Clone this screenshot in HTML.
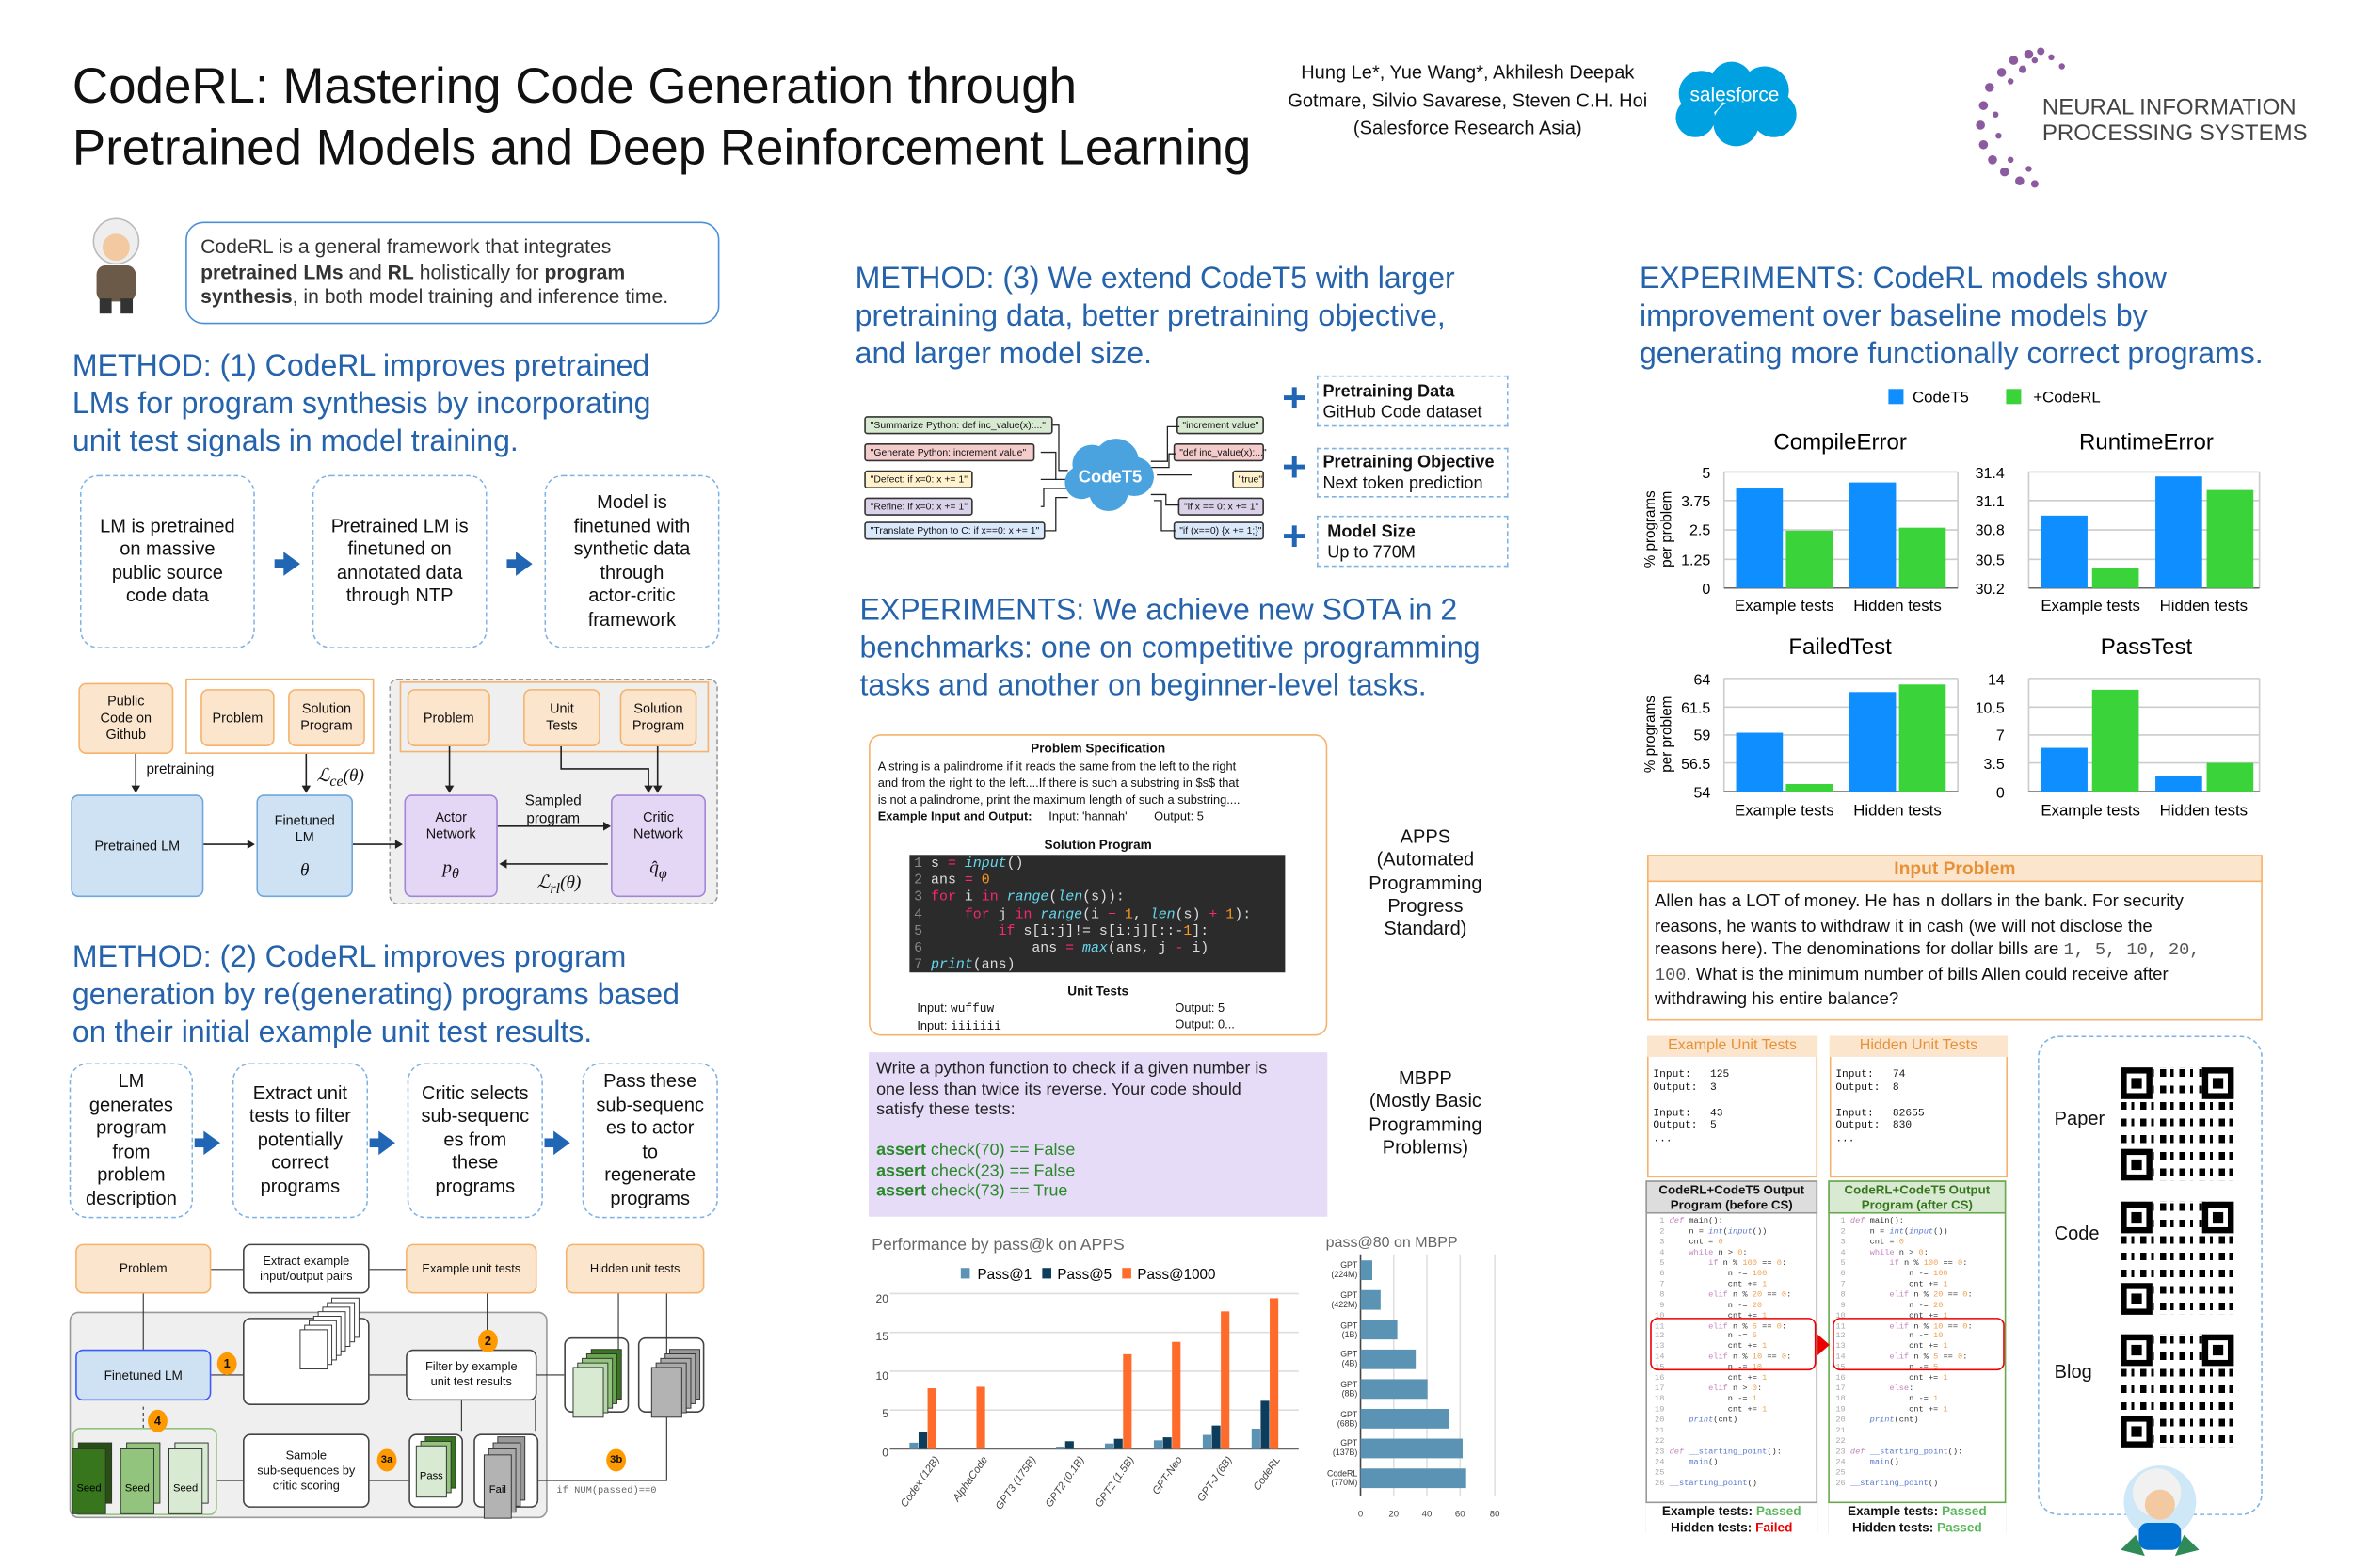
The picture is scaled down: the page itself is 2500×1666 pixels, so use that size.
<!DOCTYPE html>
<html><head><meta charset="utf-8"><style>
*{margin:0;padding:0;box-sizing:border-box}
html,body{width:2500px;height:1666px;overflow:hidden;background:#fff}
#c{position:absolute;left:0;top:0;width:1560px;height:1040px;transform:scale(1.60256,1.60192);transform-origin:0 0;font-family:"Liberation Sans",sans-serif;color:#111}
.a{position:absolute}
.h{position:absolute;color:#2563ac;font-size:20px;line-height:25px}
.db{position:absolute;border:1px dashed #7fb3e6;border-radius:12px;display:flex;align-items:center;justify-content:center;text-align:center;font-size:12.5px;line-height:15.5px}
.arr{position:absolute;width:0;height:0;border-top:8px solid transparent;border-bottom:8px solid transparent;border-left:11px solid #2166b5}
.arr:before{content:"";position:absolute;left:-17px;top:-3px;width:7px;height:6px;background:#2166b5}
.bx{position:absolute;display:flex;align-items:center;justify-content:center;text-align:center;font-size:9px;line-height:11px;border-radius:5px}
.or{background:#fce5cd;border:1px solid #f6b26b}
.bl{background:#cfe2f3;border:1px solid #6fa8dc}
.pu{background:#e4d7f5;border:1px solid #a585d8}
.wh{background:#fff;border:1px solid #444}
.num{position:absolute;width:13px;height:15px;border-radius:50%;background:#ff9900;font-size:8px;font-weight:bold;display:flex;align-items:center;justify-content:center}
.mono{font-family:"Liberation Mono",monospace}
.ib{position:absolute;font-size:9.5px;display:flex;align-items:center;padding-left:3px;border:1px solid #333;border-radius:2px;white-space:nowrap}
.cl{font-family:"Liberation Mono",monospace;font-size:5.4px;line-height:6.95px;white-space:pre;color:#333}
.qr{position:absolute;width:75px;height:75px;background:
 repeating-linear-gradient(90deg,#000 0 4px,#fff 4px 7px,#000 7px 9px,#fff 9px 13px),
 #fff;}
.qr:after{content:"";position:absolute;inset:0;background:repeating-linear-gradient(0deg,rgba(255,255,255,1) 0 3px,transparent 3px 6px,rgba(255,255,255,.0) 6px 8px,#fff 8px 11px)}
.fp{position:absolute;width:21px;height:21px;border:4px solid #000;background:#fff;z-index:2}
.fp:after{content:"";position:absolute;left:3px;top:3px;width:7px;height:7px;background:#000}
</style></head><body><div id="c">

<!-- header -->
<div class="a" style="left:48px;top:36px;font-size:33px;line-height:41px;color:#111">CodeRL: Mastering Code Generation through<br>Pretrained Models and Deep Reinforcement Learning</div>
<div class="a" style="left:848px;top:39px;width:250px;text-align:center;font-size:12.5px;line-height:18.5px">Hung Le*, Yue Wang*, Akhilesh Deepak<br>Gotmare, Silvio Savarese, Steven C.H. Hoi<br>(Salesforce Research Asia)</div>
<svg class="a" style="left:1106px;top:40px" width="88" height="58"><g fill="#00a1e0"><circle cx="22" cy="22" r="15"/><circle cx="42" cy="15" r="14"/><circle cx="64" cy="20" r="16"/><circle cx="70" cy="36" r="15"/><circle cx="45" cy="42" r="15"/><circle cx="18" cy="38" r="13"/></g><text x="44" y="27" fill="#fff" font-size="13" text-anchor="middle" font-family="Liberation Sans">salesforce</text></svg>
<svg class="a" style="left:1305px;top:28px" width="70" height="100"><g fill="#8b5a9f">
<circle cx="40" cy="8" r="3"/><circle cx="48" cy="6" r="2.5"/><circle cx="30" cy="12" r="3"/><circle cx="55" cy="10" r="2"/><circle cx="22" cy="20" r="3"/><circle cx="36" cy="18" r="2.5"/><circle cx="14" cy="30" r="3"/><circle cx="28" cy="26" r="2"/><circle cx="10" cy="42" r="3"/><circle cx="8" cy="55" r="3"/><circle cx="18" cy="48" r="2"/><circle cx="10" cy="68" r="3"/><circle cx="16" cy="78" r="3"/><circle cx="24" cy="86" r="3"/><circle cx="34" cy="92" r="3"/><circle cx="44" cy="94" r="2.5"/><circle cx="20" cy="62" r="2"/><circle cx="44" cy="12" r="2"/><circle cx="62" cy="16" r="2"/><circle cx="28" cy="78" r="2"/><circle cx="40" cy="84" r="2"/></g></svg>
<div class="a" style="left:1354px;top:63px;font-size:15px;line-height:17px;color:#444">NEURAL INFORMATION<br>PROCESSING SYSTEMS</div>

<!-- column 1 -->
<svg class="a" style="left:52px;top:138px" width="50" height="72"><circle cx="25" cy="22" r="15" fill="#eee" stroke="#bbb"/><circle cx="25" cy="26" r="9" fill="#f2c9a0"/><rect x="12" y="38" width="26" height="24" rx="6" fill="#6b5a48"/><rect x="14" y="60" width="8" height="10" fill="#333"/><rect x="28" y="60" width="8" height="10" fill="#333"/></svg>
<div class="a" style="left:123px;top:147px;width:354px;height:68px;border:1px solid #4a90d9;border-radius:12px;padding:8px 0 0 9px;font-size:13.2px;line-height:16.5px;color:#333">CodeRL is a general framework that integrates<br><b>pretrained LMs</b> and <b>RL</b> holistically for <b>program synthesis</b>, in both model training and inference time.</div>
<div class="h" style="left:48px;top:231px">METHOD: (1) CodeRL improves pretrained<br>LMs for program synthesis by incorporating<br>unit test signals in model training.</div>
<div class="db" style="left:53px;top:315px;width:116px;height:115px">LM is pretrained<br>on massive<br>public source<br>code data</div>
<div class="db" style="left:207px;top:315px;width:116px;height:115px">Pretrained LM is<br>finetuned on<br>annotated data<br>through NTP</div>
<div class="db" style="left:361px;top:315px;width:116px;height:115px">Model is<br>finetuned with<br>synthetic data<br>through<br>actor-critic<br>framework</div>
<div class="arr" style="left:188px;top:366px"></div>
<div class="arr" style="left:342px;top:366px"></div>

<!-- diagram 1 -->
<div class="a" style="left:123px;top:450px;width:125px;height:50px;border:1px solid #f6b26b"></div>
<div class="a" style="left:258px;top:450px;width:218px;height:150px;background:#efefef;border:1px dashed #999;border-radius:6px"></div>
<div class="a" style="left:265px;top:452px;width:205px;height:47px;border:1px solid #f6b26b"></div>
<div class="bx or" style="left:52px;top:453px;width:63px;height:47px">Public<br>Code on<br>Github</div>
<div class="bx or" style="left:133px;top:457px;width:49px;height:38px">Problem</div>
<div class="bx or" style="left:191px;top:457px;width:51px;height:38px">Solution<br>Program</div>
<div class="bx or" style="left:270px;top:457px;width:55px;height:38px">Problem</div>
<div class="bx or" style="left:347px;top:457px;width:51px;height:38px">Unit<br>Tests</div>
<div class="bx or" style="left:411px;top:457px;width:51px;height:38px">Solution<br>Program</div>
<div class="bx bl" style="left:47px;top:527px;width:88px;height:68px">Pretrained LM</div>
<div class="bx bl" style="left:170px;top:527px;width:64px;height:68px"><div>Finetuned<br>LM<br><br><i style="font-family:'Liberation Serif';font-size:12px">θ</i></div></div>
<div class="bx pu" style="left:268px;top:527px;width:62px;height:68px"><div>Actor<br>Network<br><br><i style="font-family:'Liberation Serif';font-size:12px">p<sub>θ</sub></i></div></div>
<div class="bx pu" style="left:405px;top:527px;width:63px;height:68px"><div>Critic<br>Network<br><br><i style="font-family:'Liberation Serif';font-size:12px">q̂<sub>φ</sub></i></div></div>
<div class="a" style="left:97px;top:505px;font-size:9.5px">pretraining</div>
<div class="a" style="left:210px;top:507px;font-size:12px;font-family:'Liberation Serif';font-style:italic">ℒ<sub>ce</sub>(θ)</div>
<div class="a" style="left:348px;top:526px;font-size:9.5px;text-align:center;line-height:12px">Sampled<br>program</div>
<div class="a" style="left:356px;top:578px;font-size:12px;font-family:'Liberation Serif';font-style:italic">ℒ<sub>rl</sub>(θ)</div>
<svg class="a" style="left:0;top:0" width="480" height="620"><g stroke="#222" fill="none" stroke-width="1"><path d="M90 500V524M203 500V524M135 560H167M234 560H265M298 495V524M372 495V510H430V524M436 495V524M330 548H403M403 573H333"/></g><g fill="#222"><path d="M87 521l3 5 3-5z M200 521l3 5 3-5zM164 557l5 3-5 3zM262 557l5 3-5 3zM295 521l3 5 3-5zM427 521l3 5 3-5zM433 521l3 5 3-5zM400 545l5 3-5 3zM336 570l-5 3 5 3z"/></g></svg>

<div class="h" style="left:48px;top:623px">METHOD: (2) CodeRL improves program<br>generation by re(generating) programs based<br>on their initial example unit test results.</div>
<div class="db" style="left:46px;top:705px;width:82px;height:103px;font-size:12.5px">LM<br>generates<br>program<br>from<br>problem<br>description</div>
<div class="db" style="left:154px;top:705px;width:90px;height:103px">Extract unit<br>tests to filter<br>potentially<br>correct<br>programs</div>
<div class="db" style="left:270px;top:705px;width:90px;height:103px">Critic selects<br>sub-sequenc<br>es from<br>these<br>programs</div>
<div class="db" style="left:386px;top:705px;width:90px;height:103px">Pass these<br>sub-sequenc<br>es to actor<br>to<br>regenerate<br>programs</div>
<div class="arr" style="left:135px;top:750px"></div>
<div class="arr" style="left:251px;top:750px"></div>
<div class="arr" style="left:367px;top:750px"></div>

<!-- diagram 2 -->
<div class="a" style="left:46px;top:870px;width:317px;height:137px;background:#efefef;border:1px solid #999;border-radius:6px"></div>
<div class="bx or" style="left:50px;top:825px;width:90px;height:33px;font-size:8.5px">Problem</div>
<div class="bx wh" style="left:161px;top:825px;width:84px;height:33px;font-size:8px;line-height:10px">Extract example<br>input/output pairs</div>
<div class="bx or" style="left:269px;top:825px;width:87px;height:33px;font-size:8px">Example unit tests</div>
<div class="bx or" style="left:375px;top:825px;width:92px;height:33px;font-size:8px">Hidden unit tests</div>
<div class="bx" style="left:50px;top:895px;width:90px;height:34px;background:#cfe2f3;border:1px solid #3c5bff;font-size:8.5px">Finetuned LM</div>
<div class="bx wh" style="left:161px;top:874px;width:84px;height:58px"></div>
<div class="bx wh" style="left:269px;top:895px;width:87px;height:34px;font-size:8px;line-height:10px">Filter by example<br>unit test results</div>
<div class="bx wh" style="left:374px;top:887px;width:43px;height:50px"></div>
<div class="bx wh" style="left:423px;top:887px;width:44px;height:50px"></div>
<div class="bx" style="left:48px;top:947px;width:96px;height:58px;border:1px solid #93c47d;background:#efefef"></div>
<div class="bx wh" style="left:161px;top:951px;width:84px;height:49px;font-size:8px;line-height:10px">Sample<br>sub-sequences by<br>critic scoring</div>
<div class="bx wh" style="left:271px;top:951px;width:36px;height:49px"></div>
<div class="bx wh" style="left:314px;top:951px;width:43px;height:49px"></div>
<svg class="a" style="left:0;top:820px" width="480" height="200">
<g stroke="#333" fill="none" stroke-width=".7"><path d="M140 22H161M245 22H269M95 38V75M323 38V75M410 38V82M442 38V82M140 92H161M245 92H269M356 92H374M306 109V129M355 109V129" /><path d="M95 127V112" stroke-dasharray="2 2"/><path d="M271 162H245M161 162H144M357 162H442V118"/></g>
<g fill="#fff" stroke="#333" stroke-width=".6">
<rect x="220" y="41" width="18" height="26"/><rect x="217" y="44" width="18" height="26"/><rect x="214" y="47" width="18" height="26"/><rect x="211" y="50" width="18" height="26"/><rect x="208" y="53" width="18" height="26"/><rect x="205" y="56" width="18" height="26"/><rect x="202" y="59" width="18" height="26"/><rect x="199" y="62" width="18" height="26"/>
</g>
<g stroke="#333" stroke-width=".6"><rect x="392" y="75" width="20" height="33" fill="#38761d"/><rect x="389" y="78" width="20" height="33" fill="#6aa84f"/><rect x="386" y="81" width="20" height="33" fill="#93c47d"/><rect x="383" y="84" width="20" height="33" fill="#b6d7a8"/><rect x="380" y="87" width="20" height="33" fill="#d9ead3"/>
<rect x="444" y="75" width="20" height="33" fill="#999"/><rect x="441" y="78" width="20" height="33" fill="#aaa"/><rect x="438" y="81" width="20" height="33" fill="#aaa"/><rect x="435" y="84" width="20" height="33" fill="#aaa"/><rect x="432" y="87" width="20" height="33" fill="#b3b3b3"/>
<rect x="282" y="133" width="20" height="34" fill="#38761d"/><rect x="279" y="136" width="20" height="34" fill="#93c47d"/><rect x="276" y="139" width="20" height="34" fill="#d9ead3"/>
<rect x="330" y="133" width="18" height="42" fill="#999"/><rect x="327" y="137" width="18" height="42" fill="#aaa"/><rect x="324" y="141" width="18" height="42" fill="#aaa"/><rect x="321" y="145" width="18" height="42" fill="#b3b3b3"/>
<rect x="52" y="137" width="22" height="40" fill="#274e13"/><rect x="48" y="141" width="22" height="43" fill="#38761d"/>
<rect x="84" y="137" width="22" height="40" fill="#93c47d"/><rect x="80" y="141" width="22" height="43" fill="#93c47d"/>
<rect x="116" y="137" width="22" height="40" fill="#d9ead3"/><rect x="112" y="141" width="22" height="43" fill="#d9ead3"/></g>
<g font-family="Liberation Sans" font-size="7" text-anchor="middle"><text x="59" y="169">Seed</text><text x="91" y="169">Seed</text><text x="123" y="169">Seed</text><text x="286" y="161">Pass</text><text x="330" y="170">Fail</text></g>
<text x="369" y="170" font-family="Liberation Mono" font-size="6.5" fill="#666">if NUM(passed)==0</text>
</svg>
<div class="num" style="left:144px;top:897px">1</div>
<div class="num" style="left:317px;top:882px">2</div>
<div class="num" style="left:98px;top:935px">4</div>
<div class="num" style="left:250px;top:961px;font-size:7px">3a</div>
<div class="num" style="left:402px;top:961px;font-size:7px">3b</div>

<!-- column 2 -->
<div class="h" style="left:567px;top:173px">METHOD: (3) We extend CodeT5 with larger<br>pretraining data, better pretraining objective,<br>and larger model size.</div>
<div class="ib" style="left:573px;top:276px;width:125px;height:12px;background:#d9ead3;font-size:6.5px">"Summarize Python: def inc_value(x):..."</div>
<div class="ib" style="left:573px;top:294px;width:113px;height:12px;background:#f4cccc;font-size:6.5px">"Generate Python: increment value"</div>
<div class="ib" style="left:573px;top:312px;width:72px;height:12px;background:#fff2cc;font-size:6.5px">"Defect: if x=0: x += 1"</div>
<div class="ib" style="left:573px;top:330px;width:72px;height:12px;background:#d9d2e9;font-size:6.5px">"Refine: if x=0: x += 1"</div>
<div class="ib" style="left:573px;top:346px;width:120px;height:12px;background:#dae8fc;font-size:6.5px">"Translate Python to C: if x==0: x += 1"</div>
<div class="ib" style="left:780px;top:276px;width:58px;height:12px;background:#d9ead3;font-size:6.5px">"increment value"</div>
<div class="ib" style="left:778px;top:294px;width:60px;height:12px;background:#f4cccc;font-size:6.5px">"def inc_value(x):..."</div>
<div class="ib" style="left:817px;top:312px;width:21px;height:12px;background:#fff2cc;font-size:6.5px">"true"</div>
<div class="ib" style="left:781px;top:330px;width:57px;height:12px;background:#d9d2e9;font-size:6.5px">"if x == 0: x += 1"</div>
<div class="ib" style="left:778px;top:346px;width:60px;height:12px;background:#dae8fc;font-size:6.5px">"if (x==0) {x += 1;}"</div>
<svg class="a" style="left:690px;top:270px" width="100" height="95"><g stroke="#222" fill="none" stroke-width=".8"><path d="M8 12H12V42H18M-4 30H10V48H18M-45 48H18M-45 66H2V54H18M3 82H10V60H18M77 45H128M73 36H84V13H92M73 40H85V31H90M73 58H83V65H92M75 62H80V82H90"/></g>
<g fill="#4aa3df"><circle cx="34" cy="38" r="13"/><circle cx="50" cy="36" r="15"/><circle cx="62" cy="46" r="13"/><circle cx="45" cy="56" r="13"/><circle cx="27" cy="50" r="11"/></g>
<text x="46" y="50" fill="#fff" font-size="11.5" font-weight="bold" text-anchor="middle" font-family="Liberation Sans">CodeT5</text></svg>
<div class="a" style="left:873px;top:249px;width:127px;height:34px;border:1px dashed #7fb3e6;padding:3px 0 0 3px;font-size:11.3px;line-height:14px;white-space:nowrap"><b>Pretraining Data</b><br>GitHub Code dataset</div>
<div class="a" style="left:873px;top:297px;width:127px;height:33px;border:1px dashed #7fb3e6;padding:2px 0 0 3px;font-size:11.3px;line-height:14px;white-space:nowrap"><b>Pretraining Objective</b><br>Next token prediction</div>
<div class="a" style="left:873px;top:342px;width:127px;height:34px;border:1px dashed #7fb3e6;padding:3px 0 0 6px;font-size:11.3px;line-height:14px"><b>Model Size</b><br>Up to 770M</div>
<div class="a" style="left:850px;top:254px;font-size:28px;font-weight:bold;color:#2166b5;line-height:20px">+</div>
<div class="a" style="left:850px;top:300px;font-size:28px;font-weight:bold;color:#2166b5;line-height:20px">+</div>
<div class="a" style="left:850px;top:346px;font-size:28px;font-weight:bold;color:#2166b5;line-height:20px">+</div>

<div class="h" style="left:570px;top:393px">EXPERIMENTS: We achieve new SOTA in 2<br>benchmarks: one on competitive programming<br>tasks and another on beginner-level tasks.</div>
<div class="a" style="left:576px;top:487px;width:304px;height:200px;border:1px solid #f6b26b;border-radius:8px"></div>
<div class="a" style="left:576px;top:491px;width:304px;text-align:center;font-size:8.5px;font-weight:bold">Problem Specification</div>
<div class="a" style="left:582px;top:503px;width:294px;font-size:8px;line-height:11px;white-space:nowrap">A string is a palindrome if it reads the same from the left to the right<br>and from the right to the left....If there is such a substring in $s$ that<br>is not a palindrome, print the maximum length of such a substring....<br><b>Example Input and Output:</b> &nbsp;&nbsp;&nbsp;&nbsp;Input: 'hannah' &nbsp;&nbsp;&nbsp;&nbsp;&nbsp;&nbsp;&nbsp;Output: 5</div>
<div class="a" style="left:576px;top:555px;width:304px;text-align:center;font-size:8.5px;font-weight:bold">Solution Program</div>
<div class="a mono" style="left:603px;top:567px;width:249px;height:78px;background:#2b2b2b;color:#ddd;font-size:9.3px;line-height:11.2px;white-space:pre;padding:0 0 0 3px"><span style="color:#888">1</span> s <span style="color:#f92672">=</span> <i style="color:#66d9ef">input</i>()
<span style="color:#888">2</span> ans <span style="color:#f92672">=</span> <span style="color:#fd971f">0</span>
<span style="color:#888">3</span> <span style="color:#f92672">for</span> i <span style="color:#f92672">in</span> <i style="color:#66d9ef">range</i>(<i style="color:#66d9ef">len</i>(s)):
<span style="color:#888">4</span>     <span style="color:#f92672">for</span> j <span style="color:#f92672">in</span> <i style="color:#66d9ef">range</i>(i <span style="color:#f92672">+</span> <span style="color:#fd971f">1</span>, <i style="color:#66d9ef">len</i>(s) <span style="color:#f92672">+</span> <span style="color:#fd971f">1</span>):
<span style="color:#888">5</span>         <span style="color:#f92672">if</span> s[i:j]!= s[i:j][::-<span style="color:#fd971f">1</span>]:
<span style="color:#888">6</span>             ans <span style="color:#f92672">=</span> <i style="color:#66d9ef">max</i>(ans, j <span style="color:#f92672">-</span> i)
<span style="color:#888">7</span> <i style="color:#66d9ef">print</i>(ans)</div>
<div class="a" style="left:576px;top:652px;width:304px;text-align:center;font-size:8.5px;font-weight:bold">Unit Tests</div>
<div class="a" style="left:608px;top:663px;font-size:8px;line-height:11px">Input: <span class="mono">wuffuw</span><br>Input: <span class="mono">iiiiiii</span></div>
<div class="a" style="left:779px;top:663px;font-size:8px;line-height:11px">Output: 5<br>Output: 0...</div>
<div class="a" style="left:905px;top:548px;width:80px;text-align:center;font-size:12.5px;line-height:15.3px">APPS<br>(Automated<br>Programming<br>Progress<br>Standard)</div>
<div class="a" style="left:576px;top:698px;width:304px;height:109px;background:#e6dcf8"></div>
<div class="a" style="left:581px;top:703px;font-size:11.2px;line-height:13.5px;color:#222;white-space:nowrap">Write a python function to check if a given number is<br>one less than twice its reverse. Your code should<br>satisfy these tests:<br><br><span style="color:#2a8a2a"><b>assert</b> check(70) == False<br><b>assert</b> check(23) == False<br><b>assert</b> check(73) == True</span></div>
<div class="a" style="left:905px;top:708px;width:80px;text-align:center;font-size:12.5px;line-height:15.3px">MBPP<br>(Mostly Basic<br>Programming<br>Problems)</div>

<svg class="a" style="left:570px;top:810px" width="440" height="210" font-family="Liberation Sans">
<text x="8" y="19" font-size="11" fill="#666">Performance by pass@k on APPS</text>
<rect x="67" y="31" width="6" height="7" fill="#5b93b4"/><text x="78" y="38.5" font-size="9.5">Pass@1</text>
<rect x="121" y="31" width="6" height="7" fill="#0d3d5c"/><text x="131" y="38.5" font-size="9.5">Pass@5</text>
<rect x="174" y="31" width="6" height="7" fill="#ff6b2b"/><text x="184" y="38.5" font-size="9.5">Pass@1000</text>
<g stroke="#ddd"><line x1="20" x2="291" y1="48" y2="48"/><line x1="20" x2="291" y1="73.75" y2="73.75"/><line x1="20" x2="291" y1="99.5" y2="99.5"/><line x1="20" x2="291" y1="125.25" y2="125.25"/></g>
<line x1="20" x2="291" y1="151" y2="151" stroke="#666"/>
<g font-size="7.5" fill="#444" text-anchor="end"><text x="19" y="54">20</text><text x="19" y="79">15</text><text x="19" y="105">10</text><text x="19" y="130">5</text><text x="19" y="156">0</text></g>
<g>
<rect x="33" y="146.9" width="5.7" height="4.1" fill="#5b93b4"/><rect x="39" y="139.7" width="5.7" height="11.3" fill="#0d3d5c"/><rect x="45" y="110.8" width="5.7" height="40.2" fill="#ff6b2b"/>
<rect x="77.4" y="109.8" width="5.7" height="41.2" fill="#ff6b2b"/>
<rect x="130.2" y="149.5" width="5.7" height="1.5" fill="#5b93b4"/><rect x="136.2" y="145.9" width="5.7" height="5.1" fill="#0d3d5c"/>
<rect x="162.6" y="147.4" width="5.7" height="3.6" fill="#5b93b4"/><rect x="168.6" y="144.3" width="5.7" height="6.7" fill="#0d3d5c"/><rect x="174.6" y="88.2" width="5.7" height="62.8" fill="#ff6b2b"/>
<rect x="195" y="145.3" width="5.7" height="5.7" fill="#5b93b4"/><rect x="201" y="143.3" width="5.7" height="7.7" fill="#0d3d5c"/><rect x="207" y="80" width="5.7" height="71" fill="#ff6b2b"/>
<rect x="227.4" y="141.7" width="5.7" height="9.3" fill="#5b93b4"/><rect x="233.4" y="135.5" width="5.7" height="15.5" fill="#0d3d5c"/><rect x="239.4" y="59.8" width="5.7" height="91.2" fill="#ff6b2b"/>
<rect x="259.8" y="137.6" width="5.7" height="13.4" fill="#5b93b4"/><rect x="265.8" y="119.1" width="5.7" height="31.9" fill="#0d3d5c"/><rect x="271.8" y="51.1" width="5.7" height="99.9" fill="#ff6b2b"/>
</g>
<g font-size="7" fill="#444" text-anchor="end" font-style="italic">
<text transform="translate(53,158) rotate(-55)">Codex (12B)</text><text transform="translate(85,158) rotate(-55)">AlphaCode</text><text transform="translate(117,158) rotate(-55)">GPT3 (175B)</text><text transform="translate(149,158) rotate(-55)">GPT2 (0.1B)</text><text transform="translate(182,158) rotate(-55)">GPT2 (1.5B)</text><text transform="translate(214,158) rotate(-55)">GPT-Neo</text><text transform="translate(247,158) rotate(-55)">GPT-J (6B)</text><text transform="translate(279,158) rotate(-55)">CodeRL</text></g>
<text x="309" y="17" font-size="10" fill="#666">pass@80 on MBPP</text>
<g stroke="#e0e0e0"><line x1="354" x2="354" y1="22" y2="182"/><line x1="376" x2="376" y1="22" y2="182"/><line x1="398" x2="398" y1="22" y2="182"/><line x1="421" x2="421" y1="22" y2="182"/></g>
<line x1="332" x2="332" y1="22" y2="182" stroke="#444"/>
<g fill="#5b93b4"><rect x="332" y="26" width="7.8" height="13"/><rect x="332" y="45.7" width="13.3" height="13"/><rect x="332" y="65.4" width="24.4" height="13"/><rect x="332" y="85.1" width="36.6" height="13"/><rect x="332" y="104.8" width="44.4" height="13"/><rect x="332" y="124.5" width="58.8" height="13"/><rect x="332" y="144.2" width="67.7" height="13"/><rect x="332" y="164" width="70" height="13"/></g>
<g font-size="5.5" fill="#333" text-anchor="end"><text x="330" y="31">GPT</text><text x="330" y="37">(224M)</text><text x="330" y="51">GPT</text><text x="330" y="57">(422M)</text><text x="330" y="71">GPT</text><text x="330" y="77">(1B)</text><text x="330" y="90">GPT</text><text x="330" y="96">(4B)</text><text x="330" y="110">GPT</text><text x="330" y="116">(8B)</text><text x="330" y="130">GPT</text><text x="330" y="136">(68B)</text><text x="330" y="149">GPT</text><text x="330" y="155">(137B)</text><text x="330" y="169">CodeRL</text><text x="330" y="175">(770M)</text></g>
<g font-size="6" fill="#444" text-anchor="middle"><text x="332" y="196">0</text><text x="354" y="196">20</text><text x="376" y="196">40</text><text x="398" y="196">60</text><text x="421" y="196">80</text></g>
</svg>

<!-- column 3 -->
<div class="h" style="left:1087px;top:173px">EXPERIMENTS: CodeRL models show<br>improvement over baseline models by<br>generating more functionally correct programs.</div>
<svg class="a" style="left:1083px;top:250px" width="430" height="300" font-family="Liberation Sans">
<rect x="169" y="8" width="10" height="10" fill="#0f8fff"/><text x="185" y="17" font-size="10.5">CodeT5</text>
<rect x="247" y="8" width="10" height="10" fill="#3ad33a"/><text x="265" y="17" font-size="10.5">+CodeRL</text>
<g font-size="15" text-anchor="middle"><text x="137" y="48">CompileError</text><text x="340" y="48">RuntimeError</text><text x="137" y="184">FailedTest</text><text x="340" y="184">PassTest</text></g>
<g stroke="#ccc"><path d="M60 63H215M60 82H215M60 101.5H215M60 121H215M262 63H415M262 82H415M262 101.5H415M262 121H415M60 200H215M60 219H215M60 237.5H215M60 256H215M262 200H415M262 219H415M262 237.5H415M262 256H415M60 63V140M215 63V140M262 63V140M415 63V140M60 200V275M215 200V275M262 200V275M415 200V275"/></g>
<g stroke="#666"><path d="M60 140H215M262 140H415M60 275H215M262 275H415"/></g>
<g font-size="10" text-anchor="end"><text x="51" y="67">5</text><text x="51" y="86">3.75</text><text x="51" y="105">2.5</text><text x="51" y="125">1.25</text><text x="51" y="144">0</text>
<text x="246" y="67">31.4</text><text x="246" y="86">31.1</text><text x="246" y="105">30.8</text><text x="246" y="125">30.5</text><text x="246" y="144">30.2</text>
<text x="51" y="204">64</text><text x="51" y="223">61.5</text><text x="51" y="241">59</text><text x="51" y="260">56.5</text><text x="51" y="279">54</text>
<text x="246" y="204">14</text><text x="246" y="223">10.5</text><text x="246" y="241">7</text><text x="246" y="260">3.5</text><text x="246" y="279">0</text></g>
<g fill="#0f8fff"><rect x="68" y="74" width="31" height="66"/><rect x="143" y="70" width="31" height="70"/><rect x="270" y="92" width="31" height="48"/><rect x="346" y="66" width="31" height="74"/><rect x="68" y="236" width="31" height="39"/><rect x="143" y="209" width="31" height="66"/><rect x="270" y="246" width="31" height="29"/><rect x="346" y="265" width="31" height="10"/></g>
<g fill="#3ad33a"><rect x="101" y="102" width="31" height="38"/><rect x="176" y="100" width="31" height="40"/><rect x="304" y="127" width="31" height="13"/><rect x="380" y="75" width="31" height="65"/><rect x="101" y="270" width="31" height="5"/><rect x="176" y="204" width="31" height="71"/><rect x="304" y="207.5" width="31" height="67.5"/><rect x="380" y="256" width="31" height="19"/></g>
<g font-size="10.5" text-anchor="middle"><text x="100" y="155">Example tests</text><text x="175" y="155">Hidden tests</text><text x="303" y="155">Example tests</text><text x="378" y="155">Hidden tests</text><text x="100" y="291">Example tests</text><text x="175" y="291">Hidden tests</text><text x="303" y="291">Example tests</text><text x="378" y="291">Hidden tests</text></g>
<g font-size="9.5" text-anchor="middle"><text transform="translate(14,101) rotate(-90)">% programs</text><text transform="translate(25,101) rotate(-90)">per problem</text><text transform="translate(14,237) rotate(-90)">% programs</text><text transform="translate(25,237) rotate(-90)">per problem</text></g>
</svg>

<div class="a" style="left:1092px;top:567px;width:408px;height:110px;border:1px solid #f6b26b"></div>
<div class="a" style="left:1092px;top:567px;width:408px;height:18px;background:#fce5cd;border:1px solid #f6b26b;text-align:center;font-size:12px;line-height:17px;color:#e69138;font-weight:bold">Input Problem</div>
<div class="a" style="left:1097px;top:590px;font-size:11.6px;line-height:15.5px;white-space:nowrap">Allen has a LOT of money. He has <span class="mono">n</span> dollars in the bank. For security<br>reasons, he wants to withdraw it in cash (we will not disclose the<br>reasons here). The denominations for dollar bills are <span class="mono" style="color:#555">1, 5, 10, 20,</span><br><span class="mono" style="color:#555">100</span>. What is the minimum number of bills Allen could receive after<br>withdrawing his entire balance?</div>

<div class="a" style="left:1092px;top:687px;width:113px;height:94px;border:1px solid #f6b26b"></div>
<div class="a" style="left:1092px;top:687px;width:113px;height:14px;background:#fce5cd;text-align:center;font-size:10px;line-height:14px;color:#e69138">Example Unit Tests</div>
<div class="a mono" style="left:1096px;top:709px;font-size:7px;line-height:8.5px;white-space:pre">Input:   125
Output:  3

Input:   43
Output:  5
...</div>
<div class="a" style="left:1213px;top:687px;width:118px;height:94px;border:1px solid #f6b26b"></div>
<div class="a" style="left:1213px;top:687px;width:118px;height:14px;background:#fce5cd;text-align:center;font-size:10px;line-height:14px;color:#e69138">Hidden Unit Tests</div>
<div class="a mono" style="left:1217px;top:709px;font-size:7px;line-height:8.5px;white-space:pre">Input:   74
Output:  8

Input:   82655
Output:  830
...</div>

<div class="a" style="left:1091px;top:783px;width:114px;height:234px;border:1px solid #999"></div>
<div class="a" style="left:1091px;top:783px;width:114px;height:22px;background:#ddd;border:1px solid #999;text-align:center;font-size:8.3px;line-height:10px;font-weight:bold">CodeRL+CodeT5 Output<br>Program (before CS)</div>
<div class="a" style="left:1212px;top:783px;width:118px;height:234px;border:1px solid #6aa84f"></div>
<div class="a" style="left:1212px;top:783px;width:118px;height:22px;background:#d9ead3;border:1px solid #6aa84f;text-align:center;font-size:8.3px;line-height:10px;font-weight:bold;color:#38761d">CodeRL+CodeT5 Output<br>Program (after CS)</div>
<div class="a cl" style="left:1097px;top:807px"><span style="color:#aaa"> 1</span> <i style="color:#c585c0">def</i> main():
<span style="color:#aaa"> 2</span>     n = <i style="color:#5a78d0">int</i>(<i style="color:#5a78d0">input</i>())
<span style="color:#aaa"> 3</span>     cnt = <span style="color:#f0a050">0</span>
<span style="color:#aaa"> 4</span>     <span style="color:#c585c0">while</span> n > <span style="color:#f0a050">0</span>:
<span style="color:#aaa"> 5</span>         <span style="color:#c585c0">if</span> n % <span style="color:#f0a050">100</span> == <span style="color:#f0a050">0</span>:
<span style="color:#aaa"> 6</span>             n -= <span style="color:#f0a050">100</span>
<span style="color:#aaa"> 7</span>             cnt += <span style="color:#f0a050">1</span>
<span style="color:#aaa"> 8</span>         <span style="color:#c585c0">elif</span> n % <span style="color:#f0a050">20</span> == <span style="color:#f0a050">0</span>:
<span style="color:#aaa"> 9</span>             n -= <span style="color:#f0a050">20</span>
<span style="color:#aaa">10</span>             cnt += <span style="color:#f0a050">1</span>
<span style="color:#aaa">11</span>         <span style="color:#c585c0">elif</span> n % <span style="color:#f0a050">5</span> == <span style="color:#f0a050">0</span>:
<span style="color:#aaa">12</span>             n -= <span style="color:#f0a050">5</span>
<span style="color:#aaa">13</span>             cnt += <span style="color:#f0a050">1</span>
<span style="color:#aaa">14</span>         <span style="color:#c585c0">elif</span> n % <span style="color:#f0a050">10</span> == <span style="color:#f0a050">0</span>:
<span style="color:#aaa">15</span>             n -= <span style="color:#f0a050">10</span>
<span style="color:#aaa">16</span>             cnt += <span style="color:#f0a050">1</span>
<span style="color:#aaa">17</span>         <span style="color:#c585c0">elif</span> n > <span style="color:#f0a050">0</span>:
<span style="color:#aaa">18</span>             n -= <span style="color:#f0a050">1</span>
<span style="color:#aaa">19</span>             cnt += <span style="color:#f0a050">1</span>
<span style="color:#aaa">20</span>     <i style="color:#5a78d0">print</i>(cnt)
<span style="color:#aaa">21</span>
<span style="color:#aaa">22</span>
<span style="color:#aaa">23</span> <i style="color:#c585c0">def</i> <span style="color:#5a78d0">__starting_point</span>():
<span style="color:#aaa">24</span>     <span style="color:#5a78d0">main</span>()
<span style="color:#aaa">25</span>
<span style="color:#aaa">26</span> <span style="color:#5a78d0">__starting_point</span>()</div>
<div class="a cl" style="left:1217px;top:807px"><span style="color:#aaa"> 1</span> <i style="color:#c585c0">def</i> main():
<span style="color:#aaa"> 2</span>     n = <i style="color:#5a78d0">int</i>(<i style="color:#5a78d0">input</i>())
<span style="color:#aaa"> 3</span>     cnt = <span style="color:#f0a050">0</span>
<span style="color:#aaa"> 4</span>     <span style="color:#c585c0">while</span> n > <span style="color:#f0a050">0</span>:
<span style="color:#aaa"> 5</span>         <span style="color:#c585c0">if</span> n % <span style="color:#f0a050">100</span> == <span style="color:#f0a050">0</span>:
<span style="color:#aaa"> 6</span>             n -= <span style="color:#f0a050">100</span>
<span style="color:#aaa"> 7</span>             cnt += <span style="color:#f0a050">1</span>
<span style="color:#aaa"> 8</span>         <span style="color:#c585c0">elif</span> n % <span style="color:#f0a050">20</span> == <span style="color:#f0a050">0</span>:
<span style="color:#aaa"> 9</span>             n -= <span style="color:#f0a050">20</span>
<span style="color:#aaa">10</span>             cnt += <span style="color:#f0a050">1</span>
<span style="color:#aaa">11</span>         <span style="color:#c585c0">elif</span> n % <span style="color:#f0a050">10</span> == <span style="color:#f0a050">0</span>:
<span style="color:#aaa">12</span>             n -= <span style="color:#f0a050">10</span>
<span style="color:#aaa">13</span>             cnt += <span style="color:#f0a050">1</span>
<span style="color:#aaa">14</span>         <span style="color:#c585c0">elif</span> n % <span style="color:#f0a050">5</span> == <span style="color:#f0a050">0</span>:
<span style="color:#aaa">15</span>             n -= <span style="color:#f0a050">5</span>
<span style="color:#aaa">16</span>             cnt += <span style="color:#f0a050">1</span>
<span style="color:#aaa">17</span>         <span style="color:#c585c0">else</span>:
<span style="color:#aaa">18</span>             n -= <span style="color:#f0a050">1</span>
<span style="color:#aaa">19</span>             cnt += <span style="color:#f0a050">1</span>
<span style="color:#aaa">20</span>     <i style="color:#5a78d0">print</i>(cnt)
<span style="color:#aaa">21</span>
<span style="color:#aaa">22</span>
<span style="color:#aaa">23</span> <i style="color:#c585c0">def</i> <span style="color:#5a78d0">__starting_point</span>():
<span style="color:#aaa">24</span>     <span style="color:#5a78d0">main</span>()
<span style="color:#aaa">25</span>
<span style="color:#aaa">26</span> <span style="color:#5a78d0">__starting_point</span>()</div>
<div class="a" style="left:1094px;top:874px;width:110px;height:35px;border:1px solid #e00;border-radius:5px"></div>
<div class="a" style="left:1215px;top:874px;width:114px;height:35px;border:1px solid #e00;border-radius:5px"></div>
<div class="a" style="left:1205px;top:885px;width:0;height:0;border-top:7px solid transparent;border-bottom:7px solid transparent;border-left:8px solid #e00"></div>
<div class="a" style="left:1091px;top:996px;width:114px;border-top:1px solid #999;text-align:center;font-size:8.5px;line-height:10.5px;font-weight:bold;background:#fff">Example tests: <span style="color:#5cb85c">Passed</span><br>Hidden tests: <span style="color:#e00">Failed</span></div>
<div class="a" style="left:1212px;top:996px;width:118px;border-top:1px solid #6aa84f;text-align:center;font-size:8.5px;line-height:10.5px;font-weight:bold;background:#fff">Example tests: <span style="color:#5cb85c">Passed</span><br>Hidden tests: <span style="color:#5cb85c">Passed</span></div>

<div class="a" style="left:1351px;top:687px;width:149px;height:318px;border:1px dashed #7fb3e6;border-radius:14px"></div>
<div class="a" style="left:1362px;top:735px;font-size:12.5px">Paper</div>
<div class="a" style="left:1362px;top:811px;font-size:12.5px">Code</div>
<div class="a" style="left:1362px;top:903px;font-size:12.5px">Blog</div>
<div class="qr" style="left:1406px;top:708px"><div class="fp" style="left:0;top:0"></div><div class="fp" style="right:0;top:0"></div><div class="fp" style="left:0;bottom:0"></div></div>
<div class="qr" style="left:1406px;top:797px"><div class="fp" style="left:0;top:0"></div><div class="fp" style="right:0;top:0"></div><div class="fp" style="left:0;bottom:0"></div></div>
<div class="qr" style="left:1406px;top:885px"><div class="fp" style="left:0;top:0"></div><div class="fp" style="right:0;top:0"></div><div class="fp" style="left:0;bottom:0"></div></div>
<svg class="a" style="left:1400px;top:968px" width="64" height="66"><circle cx="32" cy="28" r="24" fill="#cfe8f8"/><circle cx="30" cy="22" r="16" fill="#f1f1f1"/><circle cx="32" cy="30" r="10" fill="#f2c9a0"/><rect x="18" y="42" width="28" height="18" rx="6" fill="#0070d2"/><path d="M6 60l10-10 6 14zM58 60l-10-10-6 14z" fill="#2e8b57"/></svg>
</div></body></html>
